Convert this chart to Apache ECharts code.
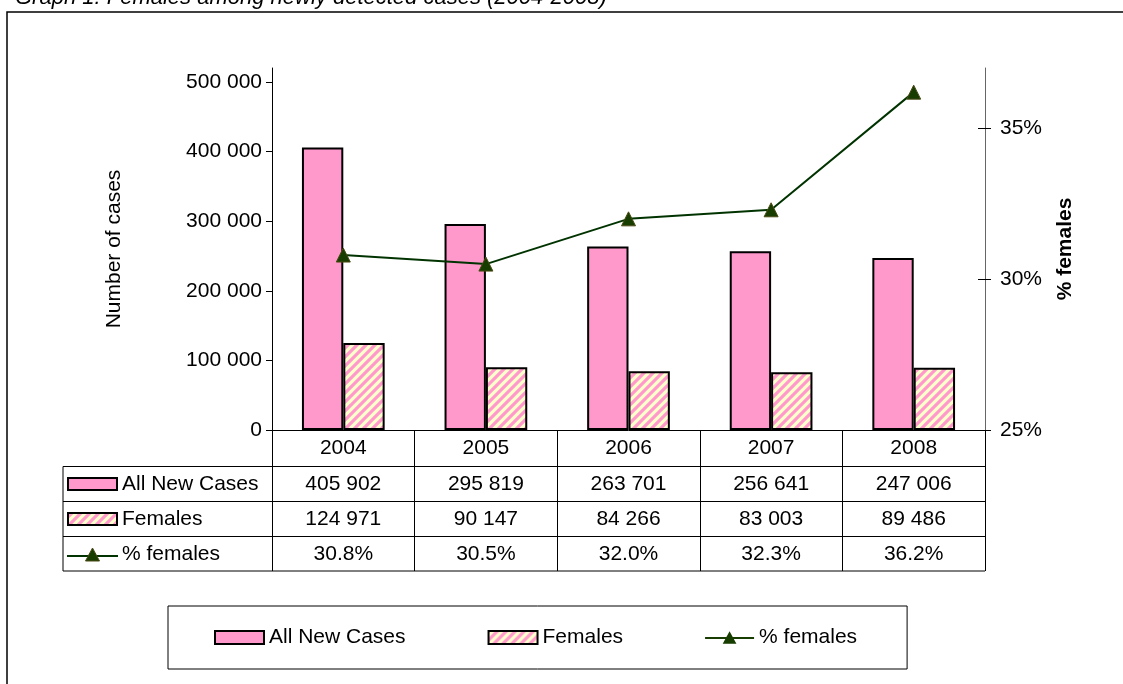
<!DOCTYPE html>
<html>
<head>
<meta charset="utf-8">
<script src="https://cdn.jsdelivr.net/npm/echarts@6/dist/echarts.min.js"></script>
<style>
	html, body { margin: 0; padding: 0; background: #fff; }
	#main { width: 1123px; height: 684px; }
</style>
</head>
<body>
<div id="main"></div>
<script>
	var years = ['2004', '2005', '2006', '2007', '2008'];
	var allCases = [405902, 295819, 263701, 256641, 247006]; // All New Cases
	var females = [124971, 90147, 84266, 83003, 89486]; // Females
	var pctFemales = [30.8, 30.5, 32.0, 32.3, 36.2]; // % females
	var casesTicks = [0, 100000, 200000, 300000, 400000, 500000];
	var pctTicks = [25, 30, 35];
	var seriesNames = ['All New Cases', 'Females', '% females'];
	var titleText = 'Graph 1: Females among newly detected cases (2004-2008)';

	var FONT = '"Liberation Sans", Arial, sans-serif';
	var PINK = '#ff99cc';
	var LINE = '#003300';
	var MARK = '#173d00';

	function fmtNum(v) {
		return String(v).replace(/\B(?=(\d{3})+(?!\d))/g, ' ');
	}
	function fmtPct(v) {
		return v.toFixed(1) + '%';
	}

	// hatch fill for females bars
	function makeHatch() {
		var s = 9;
		var c = document.createElement('canvas');
		c.width = s;
		c.height = s;
		var g = c.getContext('2d');
		g.fillStyle = '#ffffcc';
		g.fillRect(0, 0, s, s);
		g.strokeStyle = PINK;
		g.lineWidth = 3.2;
		g.beginPath();
		g.moveTo(-s, s); g.lineTo(s, -s);
		g.moveTo(-s, 2 * s); g.lineTo(2 * s, -s);
		g.moveTo(0, 2 * s); g.lineTo(2 * s, 0);
		g.stroke();
		return c;
	}
	var hatch = { image: makeHatch(), repeat: 'repeat' };

	var gridL = 272, gridR = 138, gridT = 68, gridB = 254;

	var myChart = echarts.init(document.getElementById('main'));
	var option = {
		animation: false,
		textStyle: { fontFamily: FONT },
		grid: { left: gridL, right: gridR, top: gridT, bottom: gridB },
		legend: {
			data: [
				{ name: seriesNames[0], icon: 'rect' },
				{ name: seriesNames[1], icon: 'rect' },
				{ name: seriesNames[2], icon: 'path://M0,7 L50,7 L50,9 L0,9 Z M25,1 L32,14 L18,14 Z', itemStyle: { color: MARK, borderWidth: 0 } }
			],
			left: 168,
			top: 606,
			padding: [21, 50, 21, 46],
			borderColor: '#000',
			borderWidth: 1,
			itemGap: 82,
			itemWidth: 49,
			itemHeight: 13,
			itemStyle: { borderWidth: 2 },
			textStyle: { fontSize: 21, color: '#000', fontFamily: FONT }
		},
		xAxis: {
			type: 'category',
			data: years,
			axisLine: { lineStyle: { color: '#000', width: 1 } },
			axisTick: { show: true, length: 141, lineStyle: { color: '#000', width: 1 } },
			axisLabel: { fontSize: 21, color: '#000', margin: 8, fontFamily: FONT }
		},
		yAxis: [{
			type: 'value',
			min: 0,
			max: 520000,
			interval: 100000,
			name: 'Number of cases',
			nameLocation: 'middle',
			nameGap: 147,
			nameTextStyle: { fontSize: 21, color: '#000', fontFamily: FONT },
			axisLine: { show: true, lineStyle: { color: '#000' } },
			axisTick: { show: true, length: 6, customValues: casesTicks, lineStyle: { color: '#000' } },
			axisLabel: { customValues: casesTicks, formatter: fmtNum, fontSize: 21, color: '#000', margin: 10, fontFamily: FONT },
			splitLine: { show: false }
		}, {
			type: 'value',
			position: 'right',
			min: 25,
			max: 37,
			interval: 5,
			name: '% females',
			nameLocation: 'middle',
			nameGap: 70,
			nameRotate: 90,
			nameTextStyle: { fontSize: 21, fontWeight: 'bold', color: '#000', fontFamily: FONT },
			axisLine: { show: true, lineStyle: { color: '#666' } },
			axisTick: { show: true, length: 6, customValues: pctTicks, lineStyle: { color: '#000' } },
			axisLabel: { customValues: pctTicks, formatter: '{value}%', fontSize: 21, color: '#000', margin: 15, fontFamily: FONT },
			splitLine: { show: false }
		}, {
			// inner half of the cross ticks on the right axis
			type: 'value',
			position: 'right',
			min: 25,
			max: 37,
			interval: 5,
			axisLine: { show: false },
			axisTick: { show: true, inside: true, length: 7, customValues: pctTicks, lineStyle: { color: '#000' } },
			axisLabel: { show: false },
			splitLine: { show: false }
		}],
		series: [{
			name: seriesNames[0],
			type: 'bar',
			data: allCases,
			barGap: '0%',
			barCategoryGap: '42%',
			itemStyle: { color: PINK, borderColor: '#000', borderWidth: 2 }
		}, {
			name: seriesNames[1],
			type: 'bar',
			data: females,
			itemStyle: { color: hatch, borderColor: '#000', borderWidth: 2 }
		}, {
			name: seriesNames[2],
			type: 'line',
			yAxisIndex: 1,
			data: pctFemales,
			symbol: 'triangle',
			symbolSize: 14,
			z: 5,
			lineStyle: { color: LINE, width: 2 },
			itemStyle: { color: MARK, borderColor: '#4a4a14', borderWidth: 1 }
		}]
	};
	myChart.setOption(option);

	// frame, title and the data table under the plot
	function buildTable() {
		var els = [];
		var tableL = 63, tableR = 1123 - gridR;
		var rowY = [466.5, 501.5, 536.5, 571];
		var rowMid = [484, 519, 554];

		els.push({ type: 'rect', shape: { x: 7, y: 12, width: 1200, height: 720 }, style: { fill: 'none', stroke: '#000', lineWidth: 1.5 }, silent: true });
		els.push({ type: 'text', x: 15, y: -2, style: { text: titleText, font: 'italic 22px ' + FONT, fill: '#000', textVerticalAlign: 'middle' }, silent: true });

		rowY.forEach(function(y) {
			els.push({ type: 'line', shape: { x1: tableL, y1: y, x2: tableR, y2: y }, style: { stroke: '#000', lineWidth: 1 }, silent: true });
		});
		els.push({ type: 'line', shape: { x1: tableL, y1: rowY[0], x2: tableL, y2: rowY[3] }, style: { stroke: '#000', lineWidth: 1 }, silent: true });

		// row keys
		els.push({ type: 'rect', shape: { x: 68, y: rowMid[0] - 6, width: 49, height: 12 }, style: { fill: PINK, stroke: '#000', lineWidth: 2 }, silent: true });
		els.push({ type: 'rect', shape: { x: 68, y: rowMid[1] - 6, width: 49, height: 12 }, style: { fill: hatch, stroke: '#000', lineWidth: 2 }, silent: true });
		els.push({ type: 'line', shape: { x1: 67, y1: rowMid[2] + 2, x2: 118, y2: rowMid[2] + 2 }, style: { stroke: LINE, lineWidth: 2 }, silent: true });
		els.push({ type: 'polygon', shape: { points: [[92.5, rowMid[2] - 6], [85.5, rowMid[2] + 7], [99.5, rowMid[2] + 7]] }, style: { fill: MARK, stroke: '#4a4a14', lineWidth: 1 }, silent: true });

		var rows = [allCases.map(fmtNum), females.map(fmtNum), pctFemales.map(fmtPct)];
		seriesNames.forEach(function(name, r) {
			els.push({ type: 'text', x: 122, y: rowMid[r], style: { text: name, font: '21px ' + FONT, fill: '#000', textVerticalAlign: 'middle' }, silent: true });
			years.forEach(function(yr, i) {
				var cx = myChart.convertToPixel({ xAxisIndex: 0 }, yr);
				els.push({ type: 'text', x: cx, y: rowMid[r], style: { text: rows[r][i], font: '21px ' + FONT, fill: '#000', textAlign: 'center', textVerticalAlign: 'middle' }, silent: true });
			});
		});
		myChart.setOption({ graphic: els });
	}
	buildTable();
</script>
</body>
</html>
